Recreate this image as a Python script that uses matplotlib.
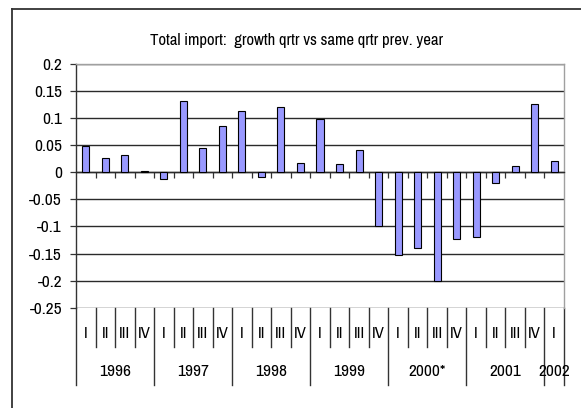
import matplotlib
matplotlib.use("Agg")
import matplotlib.pyplot as plt
from matplotlib.transforms import blended_transform_factory
from matplotlib.lines import Line2D

plt.rcParams['font.family'] = ['Archivo Narrow', 'Liberation Sans', 'DejaVu Sans']

title = "Total import:  growth qrtr vs same qrtr prev. year"
years = ["1996", "1997", "1998", "1999", "2000*", "2001", "2002"]
quarters_per_year = [4, 4, 4, 4, 4, 4, 1]
quarter_names = ["I", "II", "III", "IV"]
values = [0.048, 0.026, 0.032, 0.003,
          -0.013, 0.132, 0.044, 0.086,
          0.114, -0.009, 0.121, 0.018,
          0.098, 0.016, 0.042, -0.099,
          -0.152, -0.139, -0.200, -0.123,
          -0.120, -0.020, 0.011, 0.127,
          0.021]
yticks = [0.2, 0.15, 0.1, 0.05, 0, -0.05, -0.1, -0.15, -0.2, -0.25]
ytick_labels = ["0.2", "0.15", "0.1", "0.05", "0", "-0.05", "-0.1", "-0.15", "-0.2", "-0.25"]

W, H = 581, 408
fig = plt.figure(figsize=(W / 100, H / 100), dpi=100)

def fy(px):
    return 1 - px / H

def fx(px):
    return px / W

ax = fig.add_axes([fx(76), fy(307.7), fx(564) - fx(76), fy(64) - fy(307.7)])

n = len(values)
xs = [i + 0.5 for i in range(n)]
ax.bar(xs, values, width=0.36, color="#9999ff", edgecolor="black", linewidth=0.8, zorder=3)

ax.set_xlim(0, n)
ax.set_ylim(-0.25, 0.2)
ax.set_yticks(yticks)
ax.set_yticklabels(ytick_labels, fontsize=12.5)
ax.tick_params(axis='y', direction='out', length=4, width=0.9, color='#333333', pad=6)
ax.yaxis.grid(True, color='#2a2a2a', linewidth=1.0, zorder=1)
ax.set_axisbelow(True)

# category axis crossing at zero with ticks at category boundaries
ax.spines['bottom'].set_position(('data', 0))
ax.spines['bottom'].set_color('#2a2a2a')
ax.spines['bottom'].set_linewidth(1.0)
ax.set_xticks(range(1, n))
ax.set_xticklabels([])
ax.tick_params(axis='x', direction='out', length=4.5, width=0.9, color='#333333')
ax.spines['left'].set_color('#333333')
ax.spines['left'].set_linewidth(1.0)
ax.spines['top'].set_color('#a0a0a0')
ax.spines['right'].set_color('#a0a0a0')
ax.spines['top'].set_linewidth(1.0)
ax.spines['right'].set_linewidth(1.0)

# multi-level category labels below plot
tr = blended_transform_factory(ax.transData, fig.transFigure)
y_top = fy(307.7)
y_q_bottom = fy(347)
y_y_bottom = fy(385)
y_q_text = fy(334)
y_y_text = fy(372)

year_starts = []
pos = 0
for cnt in quarters_per_year:
    year_starts.append(pos)
    pos += cnt

for k in range(n + 1):
    if k in year_starts or k == n:
        bottom = y_y_bottom
    else:
        bottom = y_q_bottom
    ax.add_line(Line2D([k, k], [y_top, bottom], transform=tr, color='#333333',
                       linewidth=1.0, clip_on=False))

for i in range(n):
    start = max(s for s in year_starts if s <= i)
    q = quarter_names[i - start]
    ax.text(i + 0.5, y_q_text, q, transform=tr, ha='center', va='center', fontsize=12)

for yname, start, cnt in zip(years, year_starts, quarters_per_year):
    ax.text(start + cnt / 2, y_y_text, yname, transform=tr, ha='center', va='center', fontsize=12.5)

fig.text(fx(297), fy(41), title, ha='center', va='center', fontsize=12)

# outer chart frame
fig.add_artist(Line2D([fx(12), fx(12)], [fy(9), 0], transform=fig.transFigure,
                      color='#333333', linewidth=1.3))
fig.add_artist(Line2D([fx(12), 1], [fy(9), fy(9)], transform=fig.transFigure,
                      color='#333333', linewidth=1.3))

fig.savefig("out.png", dpi=100)
